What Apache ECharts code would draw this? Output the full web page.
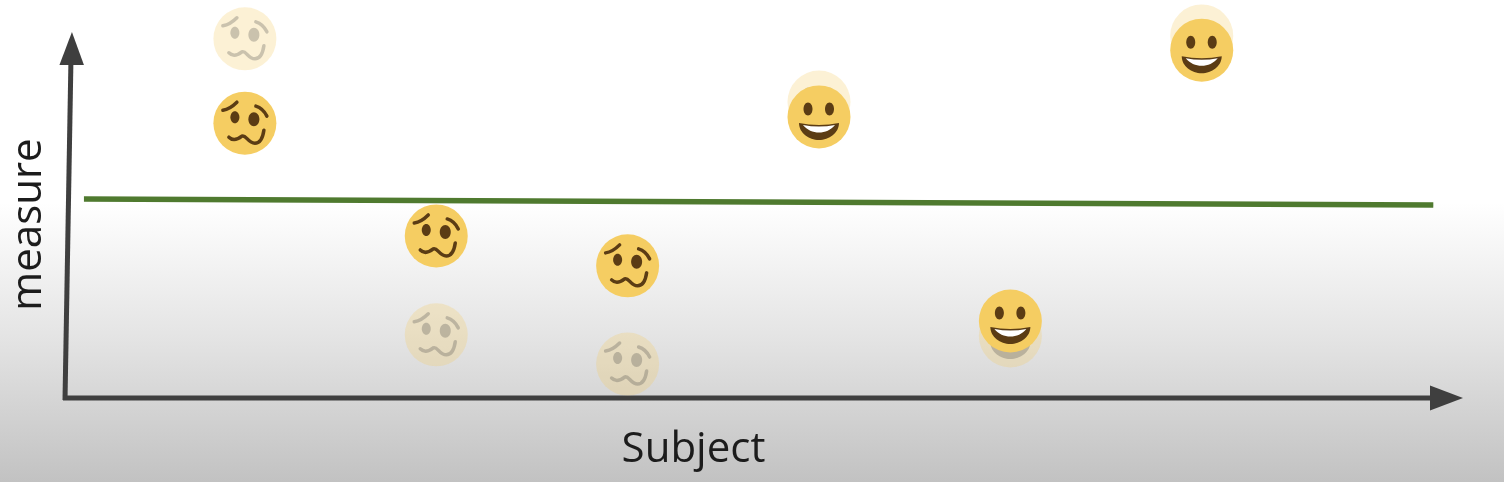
<!DOCTYPE html>
<html><head><meta charset="utf-8">
<style>html,body{margin:0;padding:0;background:#fff}#c{width:1504px;height:482px}</style>
<script src="https://cdn.jsdelivr.net/npm/echarts@6/dist/echarts.min.js"></script></head>
<body><div id="c"></div>
<script>
const subjects = [1, 2, 3, 4, 5, 6];
const moods = ['worried', 'worried', 'worried', 'happy', 'happy', 'happy'];
const earlierMeasure = [98.4, 17.3, 9.3, 81.1, 17.0, 99.2];
const laterMeasure = [75.3, 44.4, 36.2, 77.0, 21.1, 95.3];
const thresholdX = [0.159, 7.21];
const thresholdY = [54.5, 52.9];

const INK = '#5b3c14', FACE = '#f5cd62', AXIS = '#3f3f3f', TEXT = '#1c1c1c';
const worriedPaths = ['M-22,-13 Q-15,-14 -8,-21', 'M11,-17 Q18,-15 22,-7', 'M-16,14 C-12,18 -8,17 -3,13 C1,11 3,20 10,20 C16,20 18,14 19,7'];

function face(mood, x, y, alpha, inkColor) {
  const c = [{type:'circle', shape:{cx:0,cy:0,r:31.5}, style:{fill:FACE, opacity:alpha}}];
  const ink = {fill:inkColor, opacity:alpha};
  if (mood === 'worried') {
    c.push({type:'ellipse', shape:{cx:-10,cy:-6,rx:4.5,ry:6}, style:ink});
    c.push({type:'ellipse', shape:{cx:9,cy:-4,rx:5.5,ry:7}, style:ink});
    worriedPaths.forEach(d => c.push({type:'path', shape:{pathData:d},
      style:{fill:'none', stroke:inkColor, lineWidth:3.5, lineCap:'round', opacity:alpha}}));
  } else {
    c.push({type:'ellipse', shape:{cx:-11,cy:-8,rx:4.5,ry:6.5}, style:ink});
    c.push({type:'ellipse', shape:{cx:10.5,cy:-8,rx:4.5,ry:6.5}, style:ink});
    c.push({type:'path', shape:{pathData:'M-20,6 Q0,10 20,6 C20,16 10,23 0,23 C-10,23 -20,16 -20,6 Z'}, style:ink});
    c.push({type:'path', shape:{pathData:'M-16,8 Q0,11 16,8 C12,13 6,15.5 0,15.5 C-6,15.5 -12,13 -16,8 Z'},
      style:{fill:'#fff', opacity:alpha}});
  }
  return {type:'group', x, y, children:c};
}
function faceSeries(values, alpha, z, inkColor) {
  return {type:'custom', coordinateSystem:'cartesian2d', z, clip:false, silent:true,
    data: subjects.map((s,i)=>[s, values[i]]),
    renderItem(p, api){ const pt = api.coord([api.value(0), api.value(1)]);
      return face(moods[p.dataIndex], pt[0], pt[1], alpha, inkColor); }};
}
const chart = echarts.init(document.getElementById('c'), null, {renderer:'canvas'});
const XMIN = 0.06, XMAX = 7.36, yTop = 100;
chart.setOption({
  animation:false,
  backgroundColor:{type:'linear',x:0,y:0,x2:0,y2:1,colorStops:[
    {offset:0,color:'#ffffff'},{offset:0.42,color:'#ffffff'},{offset:0.7,color:'#e4e4e4'},{offset:1,color:'#c2c2c2'}]},
  grid:{left:65,right:42,top:33,bottom:84,outerBoundsMode:'none'},
  xAxis:{type:'value',min:XMIN,max:XMAX,splitLine:{show:false},axisTick:{show:false},axisLabel:{show:false},
    name:'Subject',nameLocation:'middle',nameGap:31,
    nameTextStyle:{fontFamily:'Open Sans',fontSize:42,color:TEXT,padding:[0,140,0,0]},
    axisLine:{show:false}},
  yAxis:{type:'value',min:0,max:yTop,splitLine:{show:false},axisTick:{show:false},axisLabel:{show:false},
    name:'measure',nameLocation:'middle',nameGap:15,nameRotate:90,
    nameTextStyle:{fontFamily:'Open Sans',fontSize:42,color:TEXT,padding:[0,18,0,0]},
    axisLine:{show:false}},
  series:[
    {type:'custom',coordinateSystem:'cartesian2d',silent:true,clip:false,z:3,data:[[XMIN,0],[XMIN+0.031,yTop]],
      renderItem(p,api){
        if(p.dataIndex!==1) return null;
        const a=api.coord([XMIN,0]), b=api.coord([XMIN+0.031,yTop]), e=api.coord([XMAX,0]);
        return {type:'group',children:[
          {type:'line',shape:{x1:a[0],y1:a[1]+2,x2:b[0],y2:b[1]+28},style:{stroke:AXIS,lineWidth:5}},
          {type:'polygon',shape:{points:[[b[0]+1,b[1]-1],[b[0]-11.5,b[1]+32],[b[0]+13,b[1]+32]]},style:{fill:AXIS}},
          {type:'line',shape:{x1:a[0]-2,y1:a[1],x2:e[0]-30,y2:e[1]},style:{stroke:AXIS,lineWidth:5}},
          {type:'polygon',shape:{points:[[e[0]+1,e[1]],[e[0]-32,e[1]-12.5],[e[0]-32,e[1]+12.5]]},style:{fill:AXIS}}]};
      }},
    {type:'line',z:4,silent:true,symbol:'none',clip:false,
      data:thresholdX.map((x,i)=>[x,thresholdY[i]]),lineStyle:{color:'#4f7a2f',width:5.5}},
    faceSeries(earlierMeasure,0.27,5,'#444'),
    faceSeries(laterMeasure,1,6,INK)
  ]
});
</script></body></html>
